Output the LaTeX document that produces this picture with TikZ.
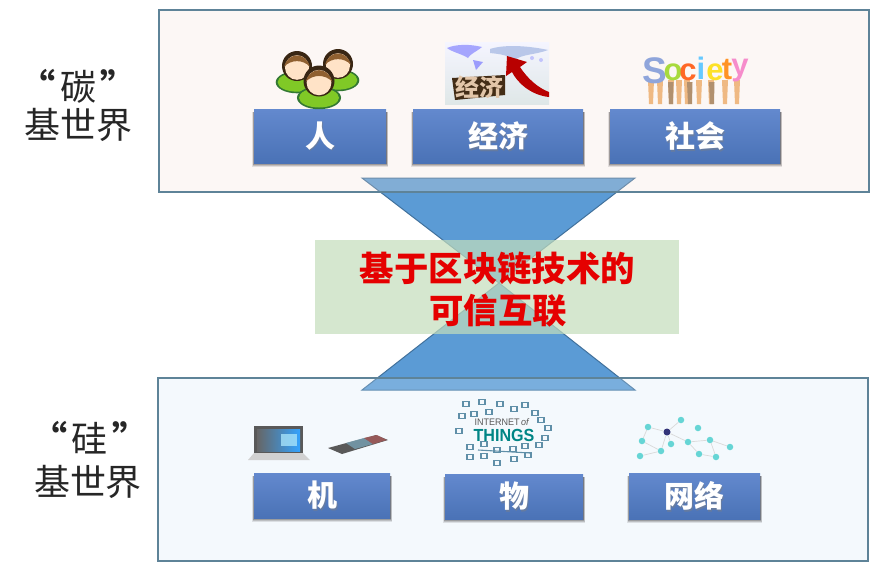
\documentclass[tikz,border=0pt]{standalone}
\usepackage{fontspec}
\setmainfont{Liberation Sans}
\newfontfamily\cjk{Noto Sans CJK SC}
\usetikzlibrary{calc}
\definecolor{framec}{HTML}{5E8398}
\definecolor{tricol}{HTML}{5B9BD5}
\definecolor{triedge}{HTML}{41719C}
\definecolor{boxtop}{HTML}{6389CE}
\definecolor{boxbot}{HTML}{4A72B6}
\definecolor{iotc}{HTML}{5F8FA8}
\tikzset{
  panel/.style={draw=none,opacity=.25},
  panelline/.style={draw=framec,line width=1.5pt},
  tri/.style={fill=tricol,draw=triedge,line width=1pt},
  sidelabel/.style={font=\cjk\fontsize{36}{40}\selectfont,text=black!85,inner sep=0pt},
  redlabel/.style={font=\cjk\bfseries\fontsize{34.4}{38}\selectfont,text=red!90!black,inner sep=0pt},
  boxlabel/.style={font=\cjk\bfseries\fontsize{30}{32}\selectfont,text=white,inner sep=0pt},
  netnode/.style={circle,fill=teal!55!cyan!60!white,inner sep=0pt,minimum size=6.5pt},
  netline/.style={draw=gray!30,line width=.7pt},
  iot/.style={draw=iotc,line width=1.1pt},
}
% blue label box with soft shadow
\newcommand{\labbox}[6]{%
  \foreach \d/\o in {4/.10,3/.14,2/.18,1/.22}{%
    \fill[black,opacity=\o] (#2-\d/2,#3+3) rectangle (#4+\d/2,#5+\d);}
  \shade[top color=boxtop,bottom color=boxbot] (#2,#3) rectangle (#4,#5);
  \node[boxlabel,text=black!50,opacity=.45] (#1sh) at ({(#2+#4)/2+1},{(#3+#5)/2+1.5}) {#6};
  \node[boxlabel] (#1) at ({(#2+#4)/2},{(#3+#5)/2}) {#6};
}
% one person icon: x, y of head centre, radius
\newcommand{\person}[3]{%
  \fill[black!55!green!60!gray] (#1,#2+#3*1.08) ellipse ({#3*1.42} and {#3*.74});
  \fill[green!45!yellow!75!black!85] (#1,#2+#3*1.08) ellipse ({#3*1.29} and {#3*.63});
  \fill[black!70!brown] (#1,#2) circle (#3);
  \fill[orange!22!white] (#1,#2+#3*.1) ellipse ({#3*.8} and {#3*.82});
  \fill[brown!75!black] (#1-#3*.86,#2+#3*.05) .. controls (#1-#3*.6,#2-#3*.95) and (#1+#3*.6,#2-#3*.95) .. (#1+#3*.86,#2+#3*.05) .. controls (#1+#3*.4,#2-#3*.45) and (#1-#3*.4,#2-#3*.45) .. cycle;
}
\begin{document}
\begin{tikzpicture}[x=1pt,y=-1pt]
\useasboundingbox (0,0) rectangle (878,566);
\fill[white] (0,0) rectangle (878,566);
% hourglass triangles
\draw[tri] (362,178) -- (635,178) -- (499,283) -- cycle;
\draw[tri] (362,390) -- (635,390) -- (499,283) -- cycle;
% panels veil the triangles
\fill[panel,fill={rgb,255:red,245;green,227;blue,216}] (159,10) rectangle (869,192);
\fill[panel,fill={rgb,255:red,213;green,234;blue,248}] (158,378) rectangle (868,561);
\draw[panelline] (159,10) rectangle (869,192);
\draw[panelline] (158,378) rectangle (868,561);
% centre band
\fill[opacity=.7,fill={rgb,255:red,196;green,222;blue,188}] (315,240) rectangle (679,334);
\node[redlabel] (l1) at (497.5,268) {基于区块链技术的};
\node[redlabel] (l2) at (498,311) {可信互联};
% side labels
\node[sidelabel] (c1) at (78,86) {\textbf{“}\hspace{.12em}碳\hspace{.12em}\textbf{”}};
\node[sidelabel] (c2) at (78,125) {基世界};
\node[sidelabel] (s1) at (90,438) {\textbf{“}\hspace{.12em}硅\hspace{.12em}\textbf{”}};
\node[sidelabel] (s2) at (88,482) {基世界};
% boxes
\labbox{ren}{254}{109}{386}{163}{人}
\labbox{jj}{413}{109}{583}{163}{经济}
\labbox{sh}{610}{109}{780}{163}{社会}
\labbox{ji}{254}{473}{390}{518}{机}
\labbox{wu}{445}{474}{583}{519}{物}
\labbox{wl}{629}{473}{760}{519}{网络}
% people icon
\person{297}{66}{15}
\person{338}{64}{15}
\person{319}{81}{15.5}
% economy picture
\shade[top color=blue!4,bottom color=cyan!15!gray!22] (445,42) rectangle (549,104);
\fill[blue!45!white,opacity=.75] (447,48) .. controls (456,44) and (470,44) .. (482,47) .. controls (476,52) and (470,54) .. (468,58) .. controls (462,54) and (452,52) .. cycle;
\fill[blue!50!white,opacity=.75] (473,60) -- (483,62) -- (476,70) -- cycle;
\fill[cyan!45!blue!30!white,opacity=.9] (490,49) .. controls (505,44) and (530,46) .. (548,50) .. controls (535,55) and (522,54) .. (515,60) .. controls (505,54) and (498,54) .. (490,53) -- cycle;
\fill[blue!35!white,opacity=.6] (532,58) circle (2) (541,60) circle (2);
\fill[black!65!brown] (452,78) -- (505,75) -- (505,95) -- (455,100) -- cycle;
\node[inner sep=0pt,font=\cjk\bfseries\fontsize{24}{24}\selectfont,text=brown!45!white] (jjpic) at (479,87) {经济};
\fill[red!72!black] (507,56) -- (527,62) -- (520,67) .. controls (527,78) and (538,88) .. (549,92) -- (549,97) .. controls (530,95) and (517,82) .. (512,72) -- (506,76) -- cycle;
% society picture
\foreach \x in {651,660,671,679,687,699,711,725,737}{
  \fill[brown!45!orange!55!white] (\x-2,104) -- (\x-3,80) -- (\x+3,80) -- (\x+2,104) -- cycle;}
\foreach \x in {671,690,712}{\fill[brown!75!black!70] (\x-2,104) -- (\x-3,82) -- (\x+2.5,82) -- (\x+2,104) -- cycle;}
\begin{scope}[font=\bfseries\fontsize{31}{31}\selectfont,inner sep=0pt]
\node[font=\bfseries\fontsize{37}{37}\selectfont,text=cyan!40!blue!45!white] (sa) at (655,71) {S};
\node[text=yellow!60!green!85!white] (sb) at (673,72) {o};
\node[text=orange!60!red!85!white] (sc) at (688,72) {c};
\node[text=blue!35!cyan!60] (sd) at (701,68) {i};
\node[text=yellow!80!orange!85!white] (se) at (715,72) {e};
\node[text=orange!85!white] (sf) at (727,70) {t};
\node[text=magenta!45!white] (sg) at (740,71) {y};
\end{scope}
% laptop and phone
\fill[black!65] (254,426) rectangle (303,453);
\shade[left color=black!60,right color=cyan!55!blue!80] (257,429) rectangle (300,451);
\fill[cyan!35!white,opacity=.8] (281,434) rectangle (297,446);
\fill[black!18] (248,460) -- (254,453) -- (303,453) -- (310,460) -- cycle;
\fill[black!65] (328,448) -- (376,435) -- (388,440) -- (342,454) -- cycle;
\fill[cyan!35!gray,opacity=.8] (346,443) -- (364,438) -- (373,444) -- (355,449) -- cycle;
\fill[red!30!gray,opacity=.8] (364,438) -- (377,435) -- (387,440) -- (373,444) -- cycle;
% internet of things
\node[inner sep=0pt,font=\fontsize{9.5}{10}\selectfont,text=black!65,xscale=.95] (iot1) at (502,422) {INTERNET\,\textit{of}};
\node[inner sep=0pt,font=\bfseries\fontsize{17.5}{18}\selectfont,text=teal!70!cyan!80!black,xscale=.92] (iot2) at (504,435) {THINGS};
\foreach \x/\y in {466/404,482/402,489/412,500/404,514/409,525/405,535/413,462/416,474/414,459/431,541/420,548/428,545/438,470/447,484/444,497/450,513/449,525/446,539/445,470/457,484/456,497/463,514/459,528/455}{
  \draw[iot] (\x-3,\y-2.5) rectangle (\x+3,\y+2.5);}
\draw[iot] (478,450) -- (530,453);
% network picture
\foreach \i/\x/\y in {1/681/420,2/698/428,3/648/427,5/642/441,6/671/444,7/688/442,8/710/440,9/730/447,10/661/451,11/640/456,12/699/454,13/716/457}{
  \node[netnode] (n\i) at (\x,\y) {};}
\node[circle,fill=black!55!blue!60!gray,inner sep=0pt,minimum size=7pt] (hub) at (667,432) {};
\draw[netline] (hub)--(n1) (hub)--(n3) (hub)--(n6) (hub)--(n10) (hub)--(n7)
  (n7)--(n8) (n8)--(n9) (n8)--(n13) (n12)--(n13) (n7)--(n12) (n5)--(n10) (n10)--(n11) (n3)--(n5);
\end{tikzpicture}
\end{document}
